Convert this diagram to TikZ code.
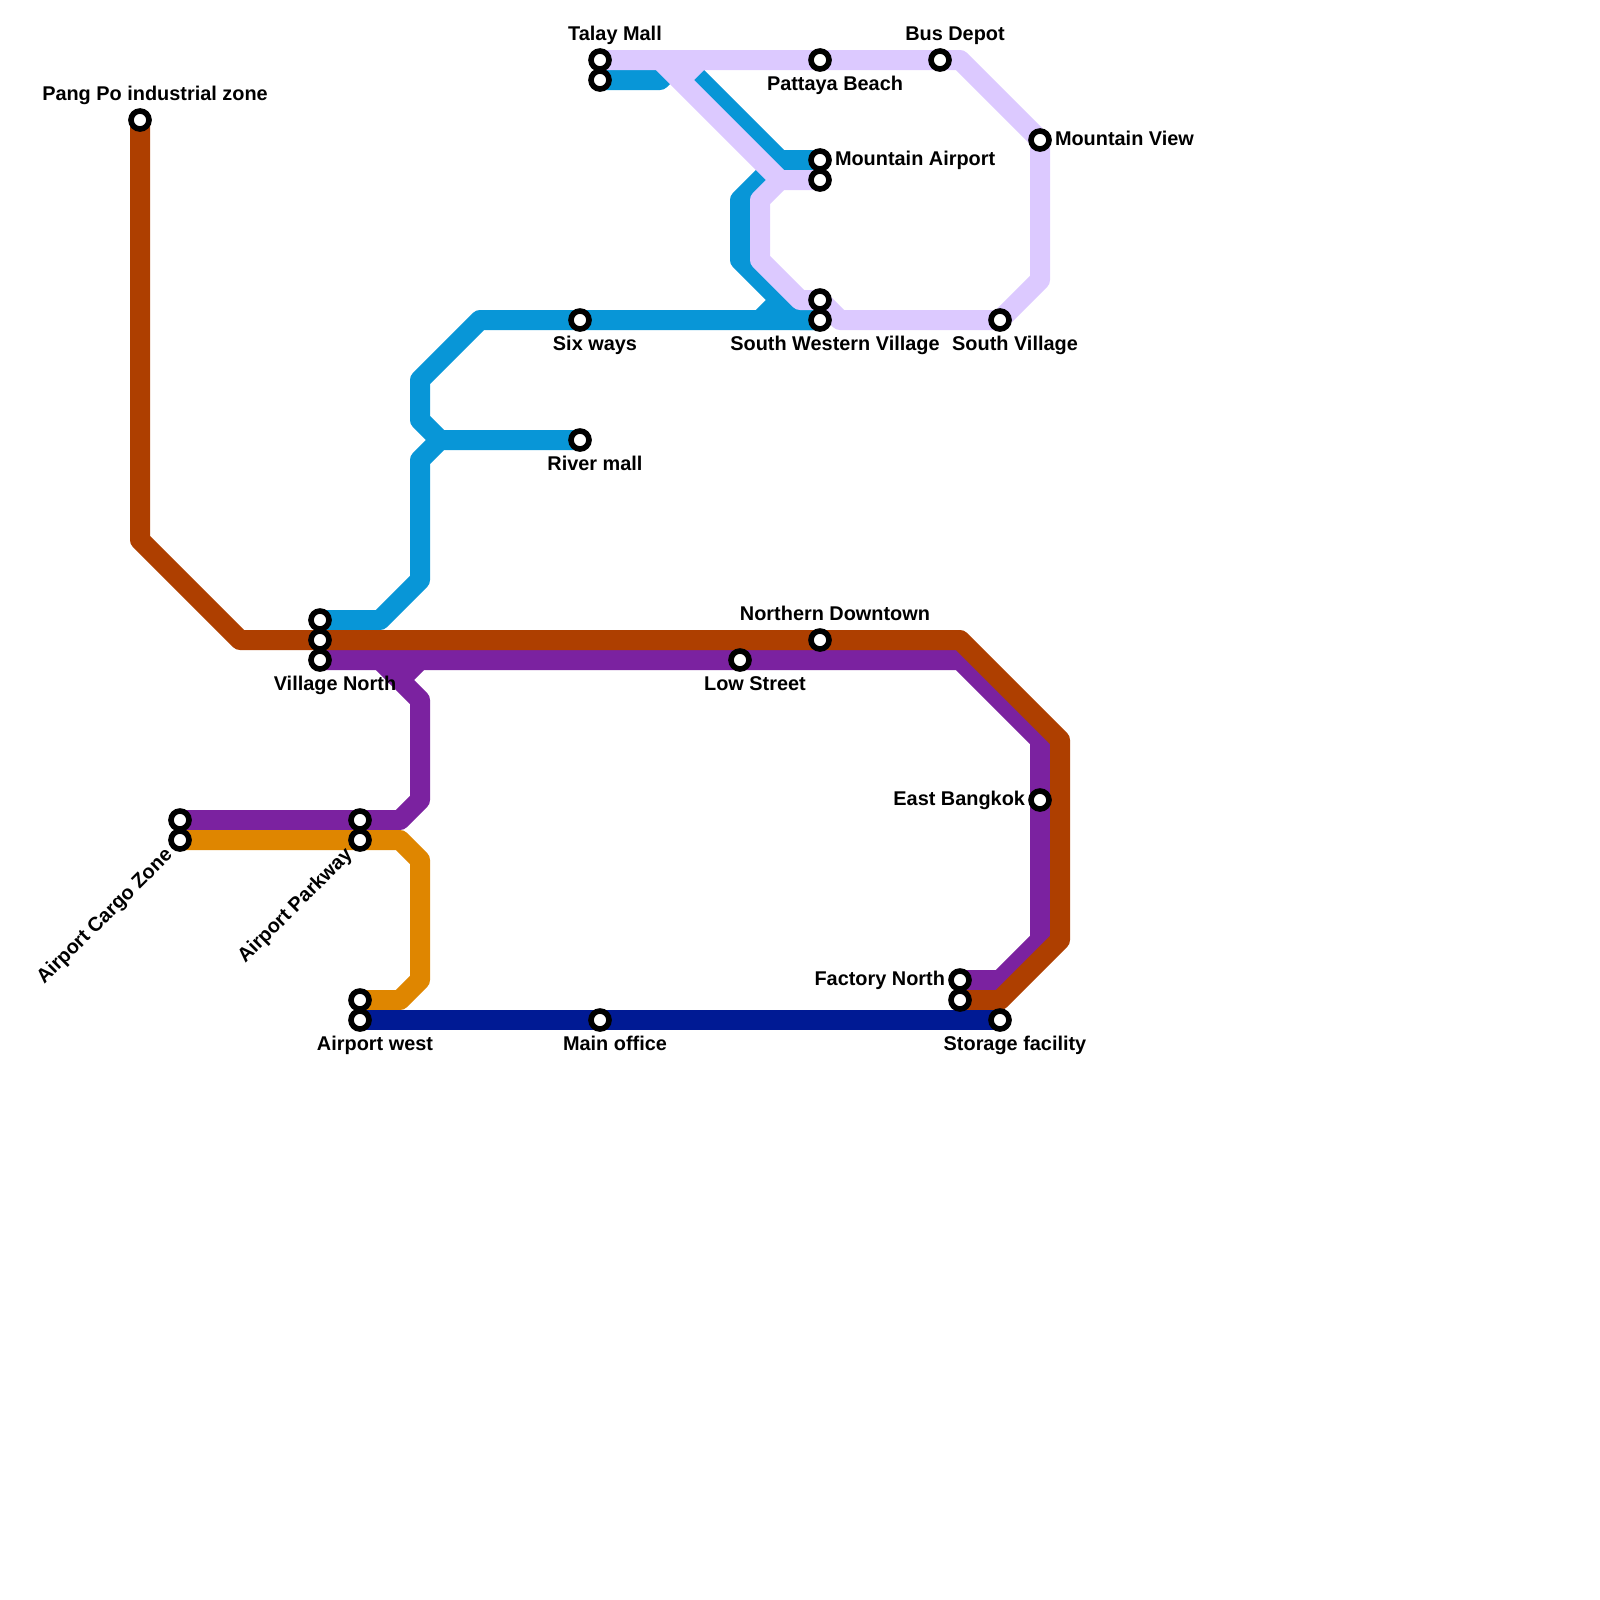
\documentclass[tikz,border=0pt]{standalone}
\usepackage{fontspec}
\setmainfont{Liberation Sans}
\usetikzlibrary{backgrounds}
\definecolor{routeblue}{HTML}{0896D7}
\definecolor{routelilac}{HTML}{DCC9FF}
\definecolor{routebrown}{HTML}{AE3F00}
\definecolor{routepurple}{HTML}{7B22A0}
\definecolor{routeorange}{HTML}{DF8600}
\definecolor{routenavy}{HTML}{001A94}
\tikzset{
  route/.style={line width=0.5cm, line join=round},
  halt/.style={
    draw, circle, fill=white, line width=0.14cm,
    minimum size=0.45cm, inner sep=0pt, outer sep=0pt
  },
  haltname/.style={font=\bfseries\fontsize{14.15}{17}\selectfont, inner sep=0pt, outer sep=0pt},
  nametop/.style={haltname, anchor=base, xshift=0.375cm, yshift=0.5cm},
  namebot/.style={haltname, anchor=base, xshift=0.375cm, yshift=-0.75cm},
  nameright/.style={haltname, anchor=base west, xshift=0.375cm, yshift=-0.125cm},
  nameleft/.style={haltname, anchor=base east, xshift=-0.375cm, yshift=-0.125cm},
  nameslant/.style={haltname, anchor=base east, xshift=-0.17cm, yshift=-0.4cm, rotate=45},
}

\begin{document}
\begin{tikzpicture}[x=0.5cm, y=-0.5cm]
  \useasboundingbox (0,0) rectangle (80,80);

  \node[halt] (pangpo)    at (7,6)   {};
  \node[halt] (cargoup)   at (9,41)  {};
  \node[halt] (cargolow)  at (9,42)  {};
  \node[halt] (parkup)    at (18,41) {};
  \node[halt] (parklow)   at (18,42) {};
  \node[halt] (westup)    at (18,50) {};
  \node[halt] (westlow)   at (18,51) {};
  \node[halt] (office)    at (30,51) {};
  \node[halt] (storage)   at (50,51) {};
  \node[halt] (factoryup) at (48,49) {};
  \node[halt] (factorylow) at (48,50) {};
  \node[halt] (eastbkk)   at (52,40) {};
  \node[halt] (downtown)  at (41,32) {};
  \node[halt] (lowst)     at (37,33) {};
  \node[halt] (villageup) at (16,31) {};
  \node[halt] (villagemid) at (16,32) {};
  \node[halt] (villagelow) at (16,33) {};
  \node[halt] (river)     at (29,22) {};
  \node[halt] (sixways)   at (29,16) {};
  \node[halt] (swestup)   at (41,15) {};
  \node[halt] (swestlow)  at (41,16) {};
  \node[halt] (southvil)  at (50,16) {};
  \node[halt] (mtnview)   at (52,7)  {};
  \node[halt] (mtnairup)  at (41,8)  {};
  \node[halt] (mtnairlow) at (41,9)  {};
  \node[halt] (pattaya)   at (41,3)  {};
  \node[halt] (busdepot)  at (47,3)  {};
  \node[halt] (talayup)   at (30,3)  {};
  \node[halt] (talaylow)  at (30,4)  {};

  \coordinate (riverfork)  at (22,22);
  \coordinate (bluestubA)  at (39,15);
  \coordinate (bluestubB)  at (38,16);
  \coordinate (bluefork)   at (39,8);
  \coordinate (lilacfork)  at (39,9);
  \coordinate (lilacstubA) at (35,3);
  \coordinate (lilacstubB) at (34,4);
  \coordinate (purplestubA) at (21,33);
  \coordinate (purplestubB) at (20,34);

  \begin{scope}[on background layer]
    \draw[route, routeblue] (villageup.center) -- (19,31) -- (21,29) -- (21,23)
      -- (riverfork) -- (river.center);
    \draw[route, routeblue] (riverfork) -- (21,21) -- (21,19) -- (24,16)
      -- (sixways.center) -- (swestlow.center);
    \draw[route, routeblue] (bluestubA) -- (bluestubB);
    \draw[route, routeblue] (bluefork) -- (37,10) -- (37,13) -- (40,16) -- (swestlow.center);
    \draw[route, routeblue] (talaylow.center) -- (33,4) -- (34,3) -- (bluefork) -- (mtnairup.center);

    \draw[route, routelilac] (talayup.center) -- (pattaya.center) -- (busdepot.center)
      -- (48,3) -- (mtnview.center) -- (52,14) -- (southvil.center) -- (42,16) -- (swestup.center);
    \draw[route, routelilac] (33,3) -- (lilacfork) -- (mtnairlow.center);
    \draw[route, routelilac] (lilacstubA) -- (lilacstubB);
    \draw[route, routelilac] (lilacfork) -- (38,10) -- (38,13) -- (40,15) -- (swestup.center);

    \draw[route, routepurple] (villagelow.center) -- (lowst.center) -- (48,33) -- (52,37)
      -- (eastbkk.center) -- (52,47) -- (50,49) -- (factoryup.center);
    \draw[route, routepurple] (cargoup.center) -- (parkup.center) -- (20,41) -- (21,40)
      -- (21,35) -- (19,33);
    \draw[route, routepurple] (purplestubA) -- (purplestubB);

    \draw[route, routebrown] (pangpo.center) -- (7,27) -- (12,32) -- (villagemid.center)
      -- (downtown.center) -- (48,32) -- (53,37) -- (53,47) -- (50,50) -- (factorylow.center);

    \draw[route, routeorange] (cargolow.center) -- (parklow.center) -- (20,42) -- (21,43)
      -- (21,49) -- (20,50) -- (westup.center);

    \draw[route, routenavy] (westlow.center) -- (office.center) -- (storage.center);
  \end{scope}

  \node[nametop] (pangponame) at (pangpo.center) {Pang Po industrial zone};
  \node[nametop] (talayname) at (talayup.center) {Talay Mall};
  \node[nametop] (busname) at (busdepot.center) {Bus Depot};
  \node[nametop] (downtownname) at (downtown.center) {Northern Downtown};
  \node[namebot] (pattayaname) at (pattaya.center) {Pattaya Beach};
  \node[namebot] (sixname) at (sixways.center) {Six ways};
  \node[namebot] (swestname) at (swestlow.center) {South Western Village};
  \node[namebot] (southname) at (southvil.center) {South Village};
  \node[namebot] (rivername) at (river.center) {River mall};
  \node[namebot] (villagename) at (villagelow.center) {Village North};
  \node[namebot] (lowname) at (lowst.center) {Low Street};
  \node[namebot] (westname) at (westlow.center) {Airport west};
  \node[namebot] (officename) at (office.center) {Main office};
  \node[namebot] (storagename) at (storage.center) {Storage facility};
  \node[nameright] (mtnviewname) at (mtnview.center) {Mountain View};
  \node[nameright] (mtnairname) at (mtnairup.center) {Mountain Airport};
  \node[nameleft] (eastname) at (eastbkk.center) {East Bangkok};
  \node[nameleft] (factoryname) at (factoryup.center) {Factory North};
  \node[nameslant] (cargoname) at (cargolow.center) {Airport Cargo Zone};
  \node[nameslant] (parkname) at (parklow.center) {Airport Parkway};
\end{tikzpicture}
\end{document}
